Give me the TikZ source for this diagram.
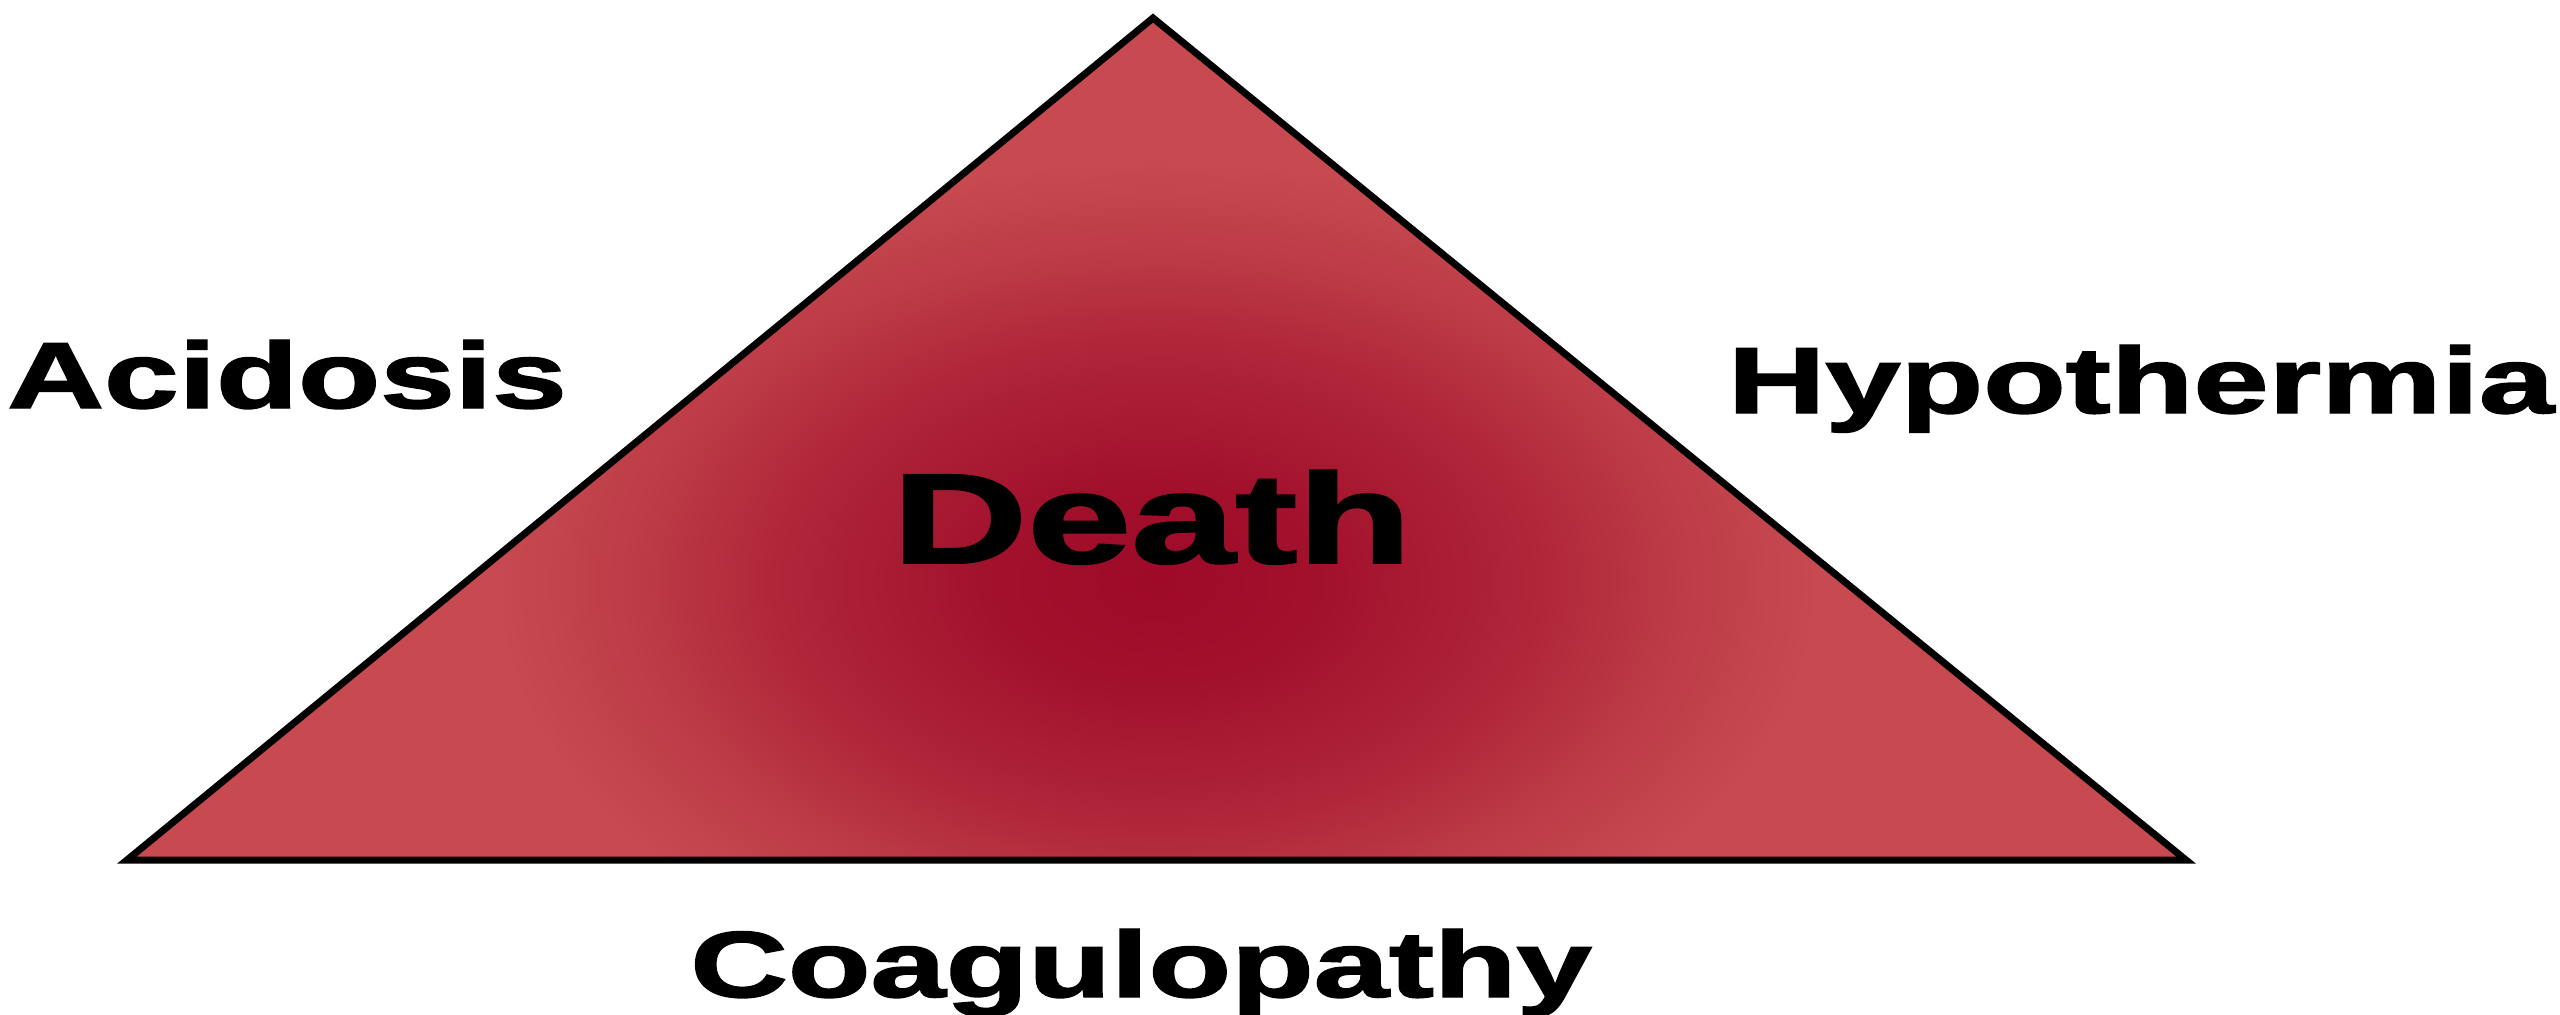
\documentclass[tikz,border=0pt]{standalone}
\usepackage{fontspec}
\setmainfont{Liberation Sans}
\newfontfamily\heavy[BoldFeatures={FakeBold=1.5}]{Liberation Sans}
\definecolor{outerred}{RGB}{198,74,80}
\definecolor{innerred}{RGB}{158,10,40}
\colorlet{redA}{innerred!90!outerred}
\colorlet{redB}{innerred!58!outerred}
\colorlet{redC}{innerred!22!outerred}
\pgfdeclareradialshading{deathglow}{\pgfpoint{0bp}{0bp}}{color(0bp)=(innerred); color(6bp)=(redA); color(14bp)=(redB); color(20bp)=(redC); color(25bp)=(outerred); color(50bp)=(outerred)}
\tikzset{
  lbl/.style={inner sep=0pt, anchor=base, font=\fontsize{26.7pt}{30pt}\heavy\bfseries},
  big/.style={inner sep=0pt, anchor=base, font=\fontsize{36.4pt}{40pt}\heavy\bfseries},
  tri/.style={draw=black, line width=0.07cm, line join=miter}
}
\newcommand{\wide}[2]{\scalebox{#1}[1]{#2}}
\begin{document}
\begin{tikzpicture}[x=0.01cm,y=-0.01cm]
\useasboundingbox (0,0) rectangle (2560,1014);
\coordinate (apex) at (1153,18);
\coordinate (bl) at (127,860);
\coordinate (br) at (2186,860);
\begin{scope}
  \clip (apex) -- (bl) -- (br) -- cycle;
  \fill[outerred] (bl) rectangle (2200,0);
  \shade[shading=deathglow] (1157,582) ellipse [x radius=660, y radius=420];
\end{scope}
\draw[tri] (apex) -- (bl) -- (br) -- cycle;
\node[big] (death) at (1152,563) {\wide{1.46}{Death}};
\node[lbl] (acid) at (287,408) {\wide{1.43}{Acidosis}};
\node[lbl] (hypo) at (2141,413) {\wide{1.44}{Hypothermia}};
\node[lbl] (coag) at (1141,997) {\wide{1.44}{Coagulopathy}};
\end{tikzpicture}
\end{document}
